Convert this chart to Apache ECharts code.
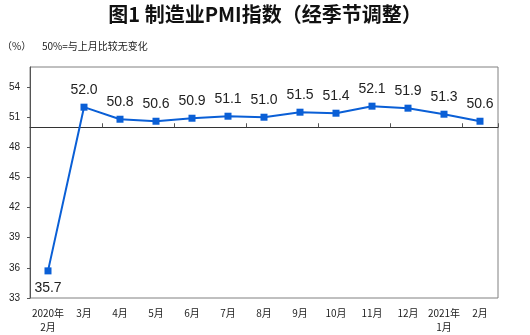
<!DOCTYPE html>
<html>
<head>
<meta charset="utf-8">
<script src="https://cdn.jsdelivr.net/npm/echarts@6/dist/echarts.min.js"></script>
<style>
  html, body { margin: 0; padding: 0; background: #fff; }
  #chart { width: 530px; height: 335px; }
</style>
</head>
<body>
<div id="chart"></div>
<script>
// Manufacturing PMI, seasonally adjusted, Feb 2020 – Feb 2021
const months = ['2020年\n2月', '3月', '4月', '5月', '6月', '7月', '8月', '9月', '10月', '11月', '12月', '2021年\n1月', '2月'];
const pmi = [35.7, 52.0, 50.8, 50.6, 50.9, 51.1, 51.0, 51.5, 51.4, 52.1, 51.9, 51.3, 50.6];
const yMin = 33, yMax = 56, yStep = 3;
const baseline = 50;

const gridTop = 67, gridBottom = 37, gridLeft = 30, gridRight = 32;
const chartH = 335;
const plotH = chartH - gridTop - gridBottom;
// the 50 line sits inside the plot, so the tick-bearing axis is shifted up to it
const baselineOffset = -((baseline - yMin) / (yMax - yMin)) * plotH;

const font = '"Liberation Sans", Arial, "Noto Sans CJK SC", sans-serif';
const cjk = '"Noto Sans CJK SC", "Liberation Sans", sans-serif';

const chart = echarts.init(document.getElementById('chart'), null, { renderer: 'canvas' });
chart.setOption({
  animation: false,
  backgroundColor: '#fff',
  title: [
    {
      text: '图1 制造业PMI指数（经季节调整）',
      left: 'center', top: 4, padding: 0,
      textStyle: { fontFamily: cjk, fontSize: 20, fontWeight: 'bold', color: '#111' }
    },
    {
      text: '（%）',
      left: 2, top: 41, padding: 0,
      textStyle: { fontFamily: cjk, fontSize: 10, fontWeight: 'normal', color: '#222' }
    },
    {
      text: '50%=与上月比较无变化',
      left: 42, top: 41, padding: 0,
      textStyle: { fontFamily: cjk, fontSize: 10, fontWeight: 'normal', color: '#222' }
    }
  ],
  grid: {
    left: gridLeft, right: gridRight, top: gridTop, bottom: gridBottom,
    show: true, borderColor: '#808080', borderWidth: 1
  },
  xAxis: [
    {
      type: 'category',
      data: months,
      boundaryGap: true,
      axisLine: { show: false },
      axisTick: { show: false },
      axisLabel: {
        fontFamily: cjk, fontSize: 10, color: '#222', margin: 8, lineHeight: 14,
        interval: 0
      }
    },
    {
      type: 'category',
      data: months,
      boundaryGap: true,
      position: 'bottom',
      offset: baselineOffset,
      axisLine: { show: true, lineStyle: { color: '#333', width: 1 } },
      axisTick: { show: true, inside: true, length: 4, lineStyle: { color: '#555' } },
      axisLabel: { show: false }
    }
  ],
  yAxis: {
    type: 'value',
    min: yMin, max: yMax, interval: yStep,
    axisLine: { show: true, lineStyle: { color: '#555' } },
    axisTick: { show: true, length: 3, lineStyle: { color: '#555' } },
    axisLabel: {
      fontFamily: font, fontSize: 10, color: '#222', margin: 10,
      showMaxLabel: false
    },
    splitLine: { show: false }
  },
  series: [{
    type: 'line',
    // the first point sits low, so its value label goes beneath it
    data: pmi.map((v, i) => i === 0
      ? { value: v, label: { position: 'bottom', distance: 7 } }
      : v),
    symbol: 'rect',
    symbolSize: 7,
    lineStyle: { color: '#0a5fd6', width: 2 },
    itemStyle: { color: '#0a5fd6' },
    label: {
      show: true,
      position: 'top',
      distance: 7,
      fontFamily: font,
      fontSize: 14,
      color: '#222',
      formatter: p => p.value.toFixed(1)
    }
  }]
});
</script>
</body>
</html>
